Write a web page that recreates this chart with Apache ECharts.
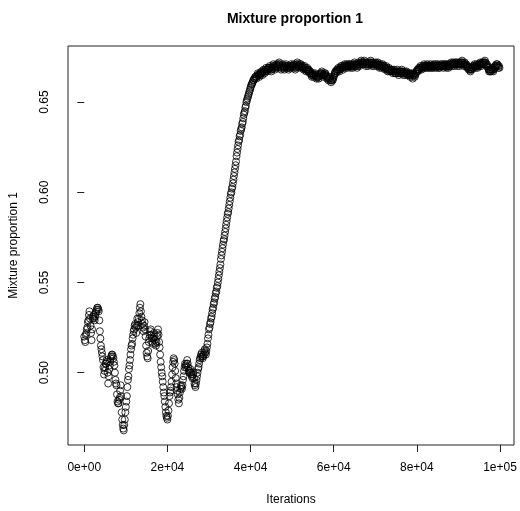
<!DOCTYPE html>
<html>
<head>
<meta charset="utf-8">
<script src="https://cdn.jsdelivr.net/npm/echarts@6/dist/echarts.min.js"></script>
<style>
  html, body { margin: 0; padding: 0; background: #fff; }
  #chart { width: 520px; height: 511px; }
</style>
</head>
<body>
<div id="chart"></div>
<script>
// iterations between stored samples
var iterStep = 125;

// trace values in thousandths (0 .. 39875), 2000 iterations a row
var burnIn = [
    520, 518, 517, 521, 522, 524, 525, 528, 529, 532, 534, 530, 526, 522, 518, 524,
    530, 531, 532, 530, 529, 531, 533, 534, 535, 536, 536, 535, 534, 529, 523, 519,
    515, 513, 511, 509, 507, 503, 499, 501, 503, 505, 505, 507, 506, 500, 494, 498,
    502, 504, 506, 508, 509, 510, 510, 509, 508, 506, 504, 500, 496, 494, 493, 488,
    484, 483, 483, 485, 486, 490, 493, 487, 478, 474, 471, 469, 468, 471, 474, 478,
    481, 484, 487, 492, 496, 498, 502, 504, 507, 510, 513, 515, 516, 519, 521, 523,
    524, 526, 527, 525, 522, 526, 530, 528, 526, 530, 533, 536, 538, 534, 531, 529,
    527, 525, 523, 526, 528, 524, 520, 515, 511, 509, 508, 512, 517, 519, 521, 523,
    524, 521, 519, 517, 516, 519, 522, 520, 518, 516, 515, 517, 520, 522, 524, 521,
    517, 514, 510, 506, 503, 500, 498, 495, 492, 489, 487, 484, 481, 478, 476, 475,
    474, 476, 479, 483, 487, 489, 490, 492, 495, 499, 503, 506, 508, 507, 505, 501,
    497, 494, 492, 490, 488, 485, 483, 486, 489, 491, 493, 492, 491, 493, 496, 498,
    501, 503, 505, 504, 503, 505, 507, 505, 503, 501, 500, 501, 502, 500, 499, 498,
    497, 499, 500, 497, 494, 493, 492, 494, 496, 498, 500, 502, 503, 505, 507, 508,
    509, 510, 511, 509, 508, 509, 510, 512, 513, 511, 510, 512, 514, 516, 519, 521,
    524, 525, 527, 528, 530, 531, 533, 535, 536, 538, 539, 541, 542, 544, 545, 547,
    548, 550, 552, 554, 556, 558, 560, 563, 565, 567, 569, 571, 573, 574, 576, 578,
    580, 582, 584, 586, 588, 589, 591, 593, 595, 597, 599, 600, 602, 603, 605, 607,
    609, 611, 613, 615, 617, 620, 622, 624, 626, 628, 629, 631, 632, 634, 635, 636,
    638, 639, 641, 643, 644, 645, 647, 648, 650, 651, 652, 653, 654, 655, 656, 657
];

// trace values in thousandths (40000 .. 99875), 2000 iterations a row
var plateau = [
    658, 659, 660, 660, 661, 662, 662, 663, 663, 664, 664, 663, 664, 665, 666, 665,
    665, 664, 666, 665, 666, 667, 666, 665, 667, 668, 667, 666, 667, 668, 669, 668,
    667, 668, 669, 668, 669, 670, 669, 668, 667, 668, 669, 670, 671, 670, 669, 668,
    669, 670, 671, 670, 669, 670, 671, 672, 671, 670, 669, 668, 669, 670, 671, 670,
    669, 668, 669, 670, 671, 670, 669, 670, 669, 668, 669, 670, 669, 670, 671, 670,
    670, 669, 670, 671, 670, 669, 668, 669, 670, 671, 672, 671, 670, 669, 670, 671,
    670, 671, 670, 669, 670, 669, 668, 669, 670, 669, 668, 667, 668, 669, 668, 667,
    668, 667, 666, 667, 666, 665, 664, 665, 666, 665, 664, 665, 666, 665, 664, 663,
    664, 665, 664, 663, 664, 665, 666, 665, 666, 667, 666, 665, 664, 665, 666, 665,
    666, 665, 664, 663, 664, 663, 662, 663, 664, 663, 662, 661, 662, 663, 662, 663,
    664, 665, 666, 667, 666, 667, 668, 667, 668, 669, 668, 667, 668, 669, 670, 669,
    670, 669, 668, 669, 670, 671, 670, 669, 670, 671, 670, 669, 670, 671, 670, 671,
    670, 669, 670, 671, 670, 669, 670, 671, 672, 671, 670, 671, 670, 669, 670, 671,
    672, 671, 670, 671, 672, 673, 672, 671, 672, 671, 672, 673, 672, 671, 670, 671,
    672, 671, 670, 671, 672, 671, 672, 673, 672, 671, 670, 671, 672, 671, 670, 671,
    671, 672, 671, 670, 671, 672, 671, 670, 669, 670, 671, 670, 669, 670, 671, 670,
    669, 670, 669, 668, 669, 670, 669, 668, 667, 668, 669, 668, 667, 668, 667, 668,
    668, 667, 666, 667, 668, 667, 666, 667, 666, 667, 668, 667, 666, 665, 666, 667,
    667, 666, 667, 668, 667, 666, 665, 666, 667, 666, 665, 666, 667, 666, 665, 666,
    665, 666, 665, 664, 665, 666, 665, 664, 663, 665, 666, 665, 664, 665, 666, 667,
    667, 668, 667, 668, 669, 668, 669, 670, 669, 668, 669, 670, 669, 670, 671, 670,
    669, 670, 669, 670, 671, 670, 669, 670, 669, 670, 671, 670, 669, 670, 669, 670,
    671, 670, 669, 670, 671, 670, 669, 670, 671, 670, 669, 670, 669, 670, 671, 670,
    670, 671, 670, 669, 670, 671, 670, 671, 670, 669, 670, 671, 670, 669, 670, 671,
    670, 671, 672, 671, 670, 671, 672, 671, 670, 671, 672, 671, 672, 671, 670, 671,
    672, 671, 670, 671, 672, 671, 672, 673, 672, 671, 670, 671, 672, 671, 670, 671,
    670, 669, 670, 669, 668, 669, 668, 667, 668, 669, 668, 669, 670, 669, 670, 671,
    670, 669, 670, 671, 670, 669, 670, 671, 670, 671, 672, 671, 670, 671, 672, 671,
    672, 671, 672, 673, 672, 671, 670, 671, 670, 669, 668, 667, 668, 667, 668, 667,
    668, 669, 668, 667, 668, 669, 670, 669, 670, 671, 670, 671, 670, 669, 670, 669
];

var xTicks = [0, 20000, 40000, 60000, 80000, 100000];
var xTickLabels = ['0e+00', '2e+04', '4e+04', '6e+04', '8e+04', '1e+05'];
var yTicks = [0.50, 0.55, 0.60, 0.65];
var yTickLabels = ['0.50', '0.55', '0.60', '0.65'];

var trace = burnIn.concat(plateau);
var points = trace.map(function (v, i) {
    return [i * iterStep, v / 1000];
});

var font = 'Liberation Sans, Arial, Helvetica, sans-serif';
var myChart = echarts.init(document.getElementById('chart'));
var option = {
    animation: false,
    backgroundColor: '#fff',
    title: {
        text: 'Mixture proportion 1',
        left: 290,
        textAlign: 'center',
        top: 7,
        textStyle: { fontFamily: font, fontSize: 14, fontWeight: 'bold', color: '#000' }
    },
    grid: {
        left: 67, top: 46, width: 447, height: 403,
        show: true, borderColor: '#222', borderWidth: 1, backgroundColor: 'transparent'
    },
    xAxis: {
        type: 'value',
        min: -3912, max: 103368,
        name: 'Iterations',
        nameLocation: 'middle',
        nameGap: 49,
        nameTextStyle: { fontFamily: font, fontSize: 12, color: '#000' },
        axisLine: { show: false },
        splitLine: { show: false },
        axisTick: { show: true, length: 7, customValues: xTicks, lineStyle: { color: '#222' } },
        axisLabel: {
            customValues: xTicks, margin: 17,
            fontFamily: font, fontSize: 12, color: '#000',
            formatter: function (v) { return xTickLabels[xTicks.indexOf(v)]; }
        }
    },
    yAxis: {
        type: 'value',
        min: 0.4599, max: 0.6811,
        name: 'Mixture proportion 1',
        nameLocation: 'middle',
        nameRotate: 90,
        nameGap: 48,
        nameTextStyle: { fontFamily: font, fontSize: 12, color: '#000' },
        axisLine: { show: false },
        splitLine: { show: false },
        axisTick: { show: true, length: 7, customValues: yTicks, lineStyle: { color: '#222' } },
        axisLabel: {
            customValues: yTicks, margin: 17, rotate: 90,
            fontFamily: font, fontSize: 12, color: '#000',
            formatter: function (v) {
                for (var i = 0; i < yTicks.length; i++) {
                    if (Math.abs(yTicks[i] - v) < 1e-9) return yTickLabels[i];
                }
                return '';
            }
        }
    },
    series: [{
        type: 'scatter',
        data: points,
        symbol: 'circle',
        symbolSize: 7,
        itemStyle: { color: 'transparent', borderColor: '#000', borderWidth: 1 },
        emphasis: { disabled: true }
    }]
};
myChart.setOption(option);
</script>
</body>
</html>
